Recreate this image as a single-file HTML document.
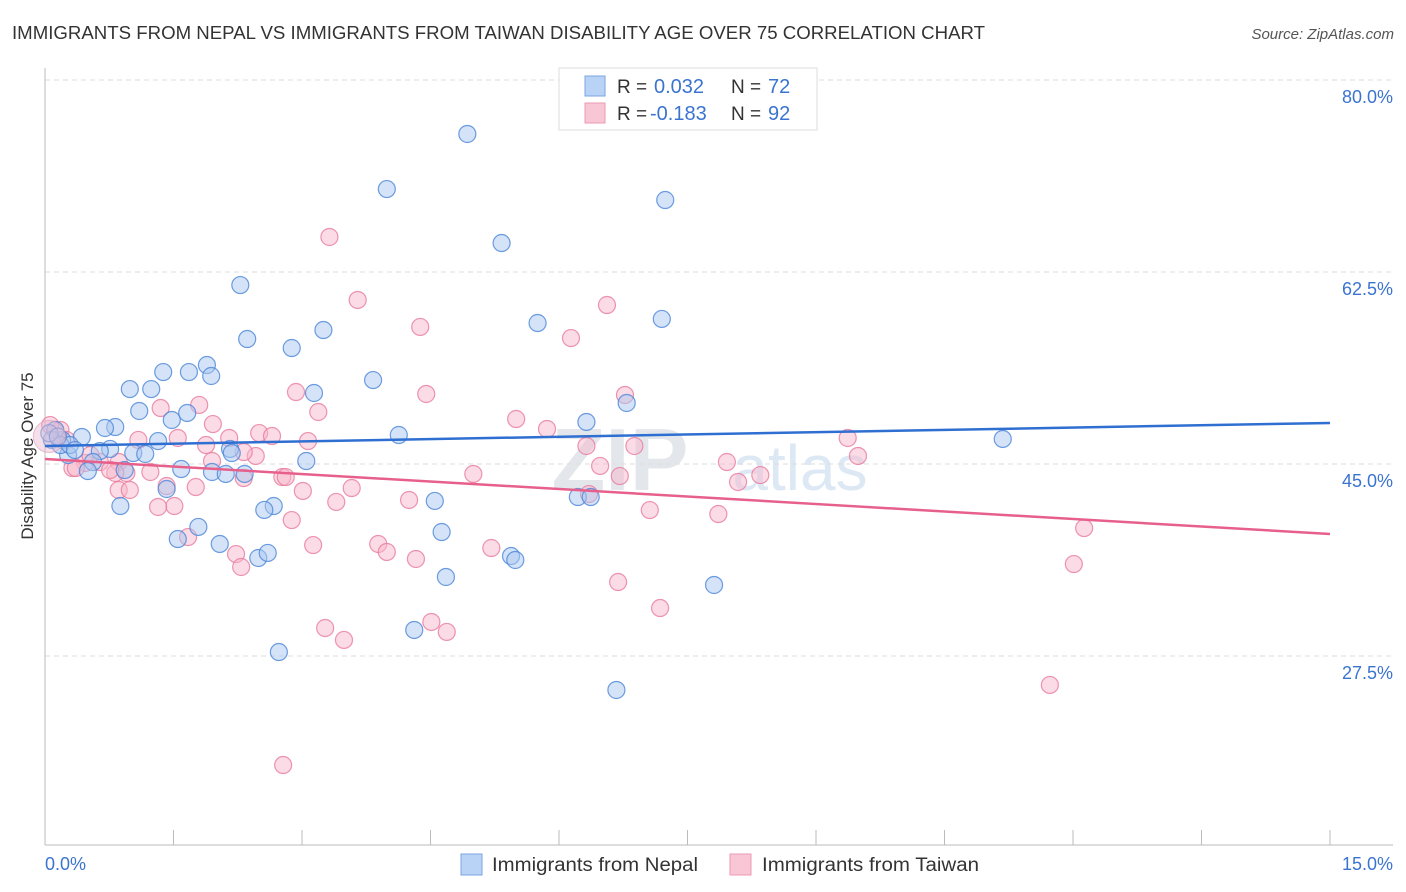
<!DOCTYPE html>
<html><head><meta charset="utf-8"><style>
body{margin:0;background:#fff;font-family:"Liberation Sans",sans-serif;}
#wrap{position:relative;width:1406px;height:892px;overflow:hidden;}
svg text{font-family:"Liberation Sans",sans-serif;}
</style></head><body>
<div id="wrap">
<svg id="chart" width="1406" height="892">
<text x="12" y="39" font-size="18" fill="#333" textLength="973" lengthAdjust="spacingAndGlyphs">IMMIGRANTS FROM NEPAL VS IMMIGRANTS FROM TAIWAN DISABILITY AGE OVER 75 CORRELATION CHART</text>
<text x="1394" y="39" font-size="15" fill="#555" font-style="italic" text-anchor="end">Source: ZipAtlas.com</text>
<text x="33" y="456" font-size="17" fill="#333" text-anchor="middle" transform="rotate(-90 33 456)">Disability Age Over 75</text>
<text x="620" y="490" font-size="88" fill="#e3e7ec" font-weight="bold" text-anchor="middle" font-family="Liberation Serif">ZIP</text>
<text x="800" y="490" font-size="64" fill="#dde8f5" text-anchor="middle">atlas</text>
<g id="grid"></g><g id="axes"></g><g id="pts"></g><g id="trends"></g>
<g>
<rect x="559" y="68" width="258" height="62" fill="#fff" stroke="#ddd"/>
<rect x="585" y="76" width="20" height="20" fill="#b8d3f5" stroke="#7aa6e0"/>
<rect x="585" y="103" width="20" height="20" fill="#f9c6d6" stroke="#ec9ab4"/>
<text x="617" y="93" font-size="19" fill="#333">R = </text><text x="654" y="93" font-size="20" fill="#3b74d0">0.032</text>
<text x="731" y="93" font-size="19" fill="#333">N = </text><text x="768" y="93" font-size="20" fill="#3b74d0">72</text>
<text x="617" y="120" font-size="19" fill="#333">R = </text><text x="650" y="120" font-size="20" fill="#3b74d0">-0.183</text>
<text x="731" y="120" font-size="19" fill="#333">N = </text><text x="768" y="120" font-size="20" fill="#3b74d0">92</text>
</g>
<g>
<rect x="461" y="854" width="21" height="21" fill="#b8d3f5" stroke="#7aa6e0"/>
<text x="492" y="871" font-size="19" fill="#333" textLength="206" lengthAdjust="spacingAndGlyphs">Immigrants from Nepal</text>
<rect x="730" y="854" width="21" height="21" fill="#f9c6d6" stroke="#ec9ab4"/>
<text x="762" y="871" font-size="19" fill="#333" textLength="217" lengthAdjust="spacingAndGlyphs">Immigrants from Taiwan</text>
</g>
</svg></div>
<script>
const yTicks=[80,62.5,45,27.5];
const xTickLabels=["0.0%","15.0%"];
const nepalX=[4.93,3.99,7.24,5.33,2.28,5.75,7.20,3.25,2.36,2.88,1.89,1.68,1.38,1.94,3.83,0.99,1.24,3.14,6.79,1.10,1.66,1.48,6.32,0.82,0.70,4.13,1.32,11.18,0.43,0.20,0.76,0.64,2.16,2.18,1.03,1.17,0.27,0.56,3.05,1.59,0.93,0.50,1.95,2.11,2.33,1.42,6.22,4.55,6.37,0.88,2.67,2.56,1.79,4.63,1.55,2.04,5.44,2.49,2.60,5.49,4.68,7.81,4.31,2.73,6.67,0.12,0.08,0.18,0.29,0.35,0.05,0.15];
const nepalY=[75.08,70.06,69.06,65.14,61.31,57.85,58.22,57.21,56.39,55.57,54.02,53.38,53.38,53.02,52.65,51.83,51.83,51.47,50.56,49.83,49.65,49.01,48.83,48.37,48.28,47.64,47.09,47.28,47.46,47.19,46.37,46.18,46.37,46.00,46.00,45.91,45.82,45.18,45.27,44.54,44.45,44.36,44.27,44.09,44.09,42.72,41.99,41.63,41.99,41.17,41.17,40.81,39.26,38.80,38.16,37.71,36.61,36.43,36.89,36.25,34.70,33.97,29.87,27.86,24.40,48.10,47.19,46.73,46.73,46.27,47.8,47.5];
const taiwanX=[3.32,3.65,6.56,4.38,6.14,2.93,6.77,4.45,1.80,3.19,1.35,5.50,1.96,5.86,2.50,2.65,1.55,2.15,1.09,3.07,9.37,6.32,6.88,1.88,2.46,9.49,2.32,1.95,0.86,0.64,0.47,0.32,7.96,6.48,6.71,5.00,2.77,1.23,0.95,0.82,0.36,2.32,2.81,8.09,8.35,1.76,1.42,0.86,0.99,3.01,3.58,3.40,4.25,6.35,1.51,1.32,7.06,7.86,2.88,12.13,1.67,3.13,3.89,3.99,5.21,2.23,2.29,4.33,12.01,6.69,7.18,3.27,4.51,4.69,3.49,11.73,2.78,0.18,0.06,0.25,0.53,0.76];
const taiwanY=[65.69,59.95,59.49,57.49,56.48,51.56,51.29,51.38,50.38,49.74,50.10,49.10,48.64,48.19,47.82,47.55,47.37,47.37,47.19,47.09,47.37,46.64,46.64,46.73,45.73,45.73,46.09,45.27,45.18,45.18,45.09,44.63,45.18,44.82,43.90,44.09,43.81,44.27,44.18,44.18,44.63,43.72,43.81,43.36,43.99,42.90,42.99,42.63,42.63,42.54,42.81,41.54,41.72,42.26,41.17,41.08,40.80,40.44,39.89,39.16,38.34,37.61,37.71,36.98,37.34,36.79,35.61,36.34,35.88,34.24,31.87,30.05,30.60,29.69,28.96,24.86,17.56,48.10,48.55,47.19,45.82,44.45];
const nepalTrend=[46.64,48.74];
const taiwanTrend=[45.45,38.62];
const xDomain=[0,15];
const NS="http://www.w3.org/2000/svg";
const X=v=>45+(v-xDomain[0])/(xDomain[1]-xDomain[0])*1285;
const Y=v=>80+(80-v)*10.971;
function mk(tag,attrs,parent){const e=document.createElementNS(NS,tag);for(const k in attrs)e.setAttribute(k,attrs[k]);parent.appendChild(e);return e;}
const grid=document.getElementById('grid'),axes=document.getElementById('axes'),pts=document.getElementById('pts'),tr=document.getElementById('trends');
yTicks.forEach(t=>{
 const l=mk('line',{x1:45,x2:1393,y1:Y(t),y2:Y(t),stroke:'#ddd','stroke-dasharray':'5,4'},grid);
 
 
 const tx=mk('text',{x:1393,y:Y(t)+23,'font-size':18,fill:'#3b74d0','text-anchor':'end'},grid);
 tx.textContent=t.toFixed(1)+'%';
 
 
});
const ax=mk('line',{x1:45,x2:45,y1:68,y2:845,stroke:'#bbb'},axes);


const bx=mk('line',{x1:45,x2:1393,y1:845,y2:845,stroke:'#bbb'},axes);


for(let i=0;i<=10;i++){const v=xDomain[0]+i*1.5;const t=mk('line',{x1:X(v),x2:X(v),y1:830,y2:845,stroke:'#bbb'},axes);
 
 }
const xl0=mk('text',{x:45,y:870,'font-size':18,fill:'#3b74d0'},axes);xl0.textContent=xTickLabels[0];


const xl1=mk('text',{x:1393,y:870,'font-size':18,fill:'#3b74d0','text-anchor':'end'},axes);xl1.textContent=xTickLabels[1];


function series(xs,ys,fill,stroke,name){xs.forEach((x,i)=>{const c=mk('circle',{cx:X(x),cy:Y(ys[i]),r:8.5,fill:fill,'fill-opacity':0.5,stroke:stroke,'stroke-width':1.2,'stroke-opacity':0.8},pts);
 
 });}
series(taiwanX,taiwanY,'#f7b8cc','#e87a9e','point-taiwan');
series(nepalX,nepalY,'#a9c8f0','#4a84d8','point-nepal');
const big=mk('circle',{cx:X(0.05),cy:Y(47.5),r:16,fill:'#e8b7d0','fill-opacity':0.45,stroke:'#d89ab8','stroke-opacity':0.6},pts);


const t1=mk('line',{x1:X(0),x2:X(15),y1:Y(nepalTrend[0]),y2:Y(nepalTrend[1]),stroke:'#2f6fd1','stroke-width':2.5},tr);


const t2=mk('line',{x1:X(0),x2:X(15),y1:Y(taiwanTrend[0]),y2:Y(taiwanTrend[1]),stroke:'#e7608c','stroke-width':2.5},tr);


</script>
</body></html>
